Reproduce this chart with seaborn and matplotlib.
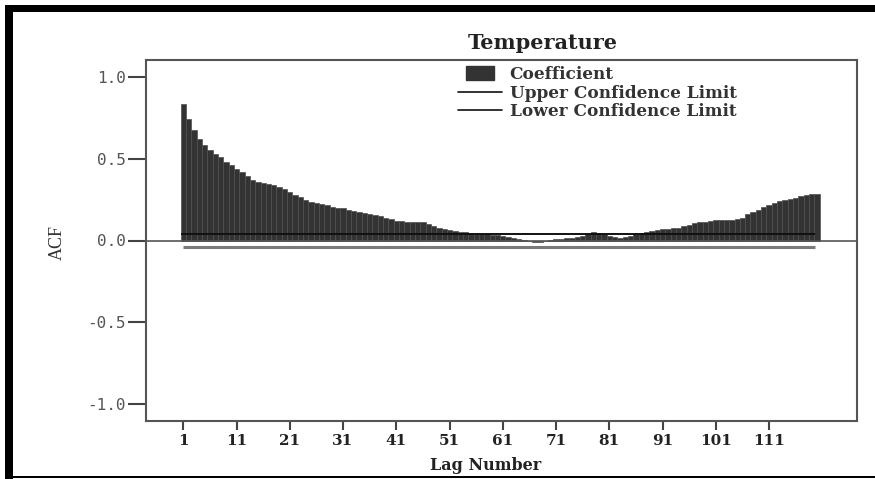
import numpy as np
import pandas as pd
import matplotlib
matplotlib.use("Agg")
import matplotlib.pyplot as plt
import seaborn as sns
from matplotlib.patches import Rectangle, Patch
from matplotlib.lines import Line2D
from matplotlib.legend_handler import HandlerPatch

# ---------------- data ----------------
lags = list(range(1, 121))
acf = [
    0.836, 0.748, 0.677, 0.620, 0.585, 0.556, 0.530, 0.510, 0.482, 0.462,
    0.440, 0.418, 0.395, 0.370, 0.360, 0.352, 0.347, 0.343, 0.330, 0.315,
    0.300, 0.280, 0.265, 0.248, 0.235, 0.228, 0.222, 0.216, 0.208, 0.202,
    0.198, 0.190, 0.178, 0.172, 0.168, 0.165, 0.155, 0.148, 0.140, 0.132,
    0.122, 0.118, 0.115, 0.113, 0.115, 0.114, 0.102, 0.088, 0.075, 0.068,
    0.062, 0.058, 0.055, 0.050, 0.045, 0.040, 0.038, 0.037, 0.036, 0.034,
    0.030, 0.022, 0.015, 0.008, 0.002, -0.005, -0.010, -0.008, -0.002, 0.004,
    0.008, 0.011, 0.014, 0.016, 0.020, 0.028, 0.040, 0.050, 0.048, 0.040,
    0.030, 0.020, 0.018, 0.022, 0.030, 0.038, 0.046, 0.054, 0.060, 0.065,
    0.068, 0.071, 0.074, 0.078, 0.088, 0.098, 0.106, 0.112, 0.116, 0.120,
    0.123, 0.125, 0.126, 0.128, 0.132, 0.140, 0.160, 0.175, 0.190, 0.205,
    0.218, 0.232, 0.240, 0.248, 0.255, 0.262, 0.272, 0.282, 0.285, 0.286,
]
upper_limit = 0.039
lower_limit = -0.039
x_tick_labels = ["1", "11", "21", "31", "41", "51", "61", "71", "81", "91", "101", "111"]
y_ticks = [-1.0, -0.5, 0.0, 0.5, 1.0]
y_tick_labels = ["-1.0", "-0.5", "0.0", "0.5", "1.0"]
title = "Temperature"
legend_labels = ["Coefficient", "Upper Confidence Limit", "Lower Confidence Limit"]

df = pd.DataFrame({"lag": lags, "acf": acf})

# ---------------- style ----------------
sns.set_style("white")
plt.rcParams["font.family"] = ["DejaVu Serif", "DejaVu Sans"]

W, H = 875, 479
fig = plt.figure(figsize=(W / 100, H / 100), dpi=100)
ax = fig.add_axes([146 / W, (H - 421) / H, 711 / W, 361 / H])

sns.barplot(data=df, x="lag", y="acf", ax=ax, color="#333333", saturation=1,
            width=1.0, edgecolor="#505050", linewidth=0.5)

n = len(lags)
ax.axhline(0, color="#555555", lw=1.2, zorder=3)
ax.hlines(upper_limit, -0.5, n - 1.4, color="#111111", lw=1.4, zorder=4)
ax.hlines(lower_limit, 0, n - 1.4, color="#7a7a7a", lw=2.2, zorder=4)

ax.set_xlim(-7.0, 126.5)
ax.set_ylim(-1.107, 1.107)

ax.set_xticks([lags.index(int(t)) for t in x_tick_labels])
ax.set_xticklabels(x_tick_labels, fontsize=11, fontweight="bold", color="#222222",
                   family="DejaVu Serif")
ax.set_yticks(y_ticks)
ax.set_yticklabels(y_tick_labels, fontsize=11.5, color="#555555",
                   family="DejaVu Sans Mono")
ax.tick_params(axis="y", direction="out", length=13, width=1.5, color="#444444", pad=1.5, left=True)
ax.tick_params(axis="x", direction="out", length=6.5, width=1.5, color="#444444", pad=3, bottom=True)

for s in ax.spines.values():
    s.set_visible(True)
    s.set_color("#555555")
    s.set_linewidth(1.5)

ax.set_xlabel("Lag Number", fontsize=11.5, fontweight="bold", color="#222222", va="center")
ax.xaxis.set_label_coords((486 - 146) / 711, (421 - 466) / 361)
ax.set_ylabel("ACF", fontsize=13, color="#333333", family="Liberation Serif",
              va="center", ha="center")
ax.yaxis.set_label_coords((57 - 146) / 711, (421 - 242) / 361)

ax.set_title(title, fontsize=15, fontweight="bold", color="#222222",
             x=(543 - 146) / 711, y=(421 - 43) / 361, va="center", pad=0)


def small_rect(legend, orig_handle, xdescent, ydescent, width, height, fontsize):
    w, h = 19.5, 9.5
    return Rectangle((-xdescent + (width - w) / 2, -ydescent + (height - h) / 2), w, h)


handles = [
    Patch(facecolor="#333333", edgecolor="#333333"),
    Line2D([], [], color="#111111", lw=1.2),
    Line2D([], [], color="#111111", lw=1.2),
]
leg = ax.legend(handles, legend_labels, loc="upper left",
                bbox_to_anchor=((458 - 146) / 711, (421 - 66) / 361),
                frameon=False, borderpad=0, borderaxespad=0,
                handlelength=2.6, handletextpad=0.45, labelspacing=0.1,
                prop={"family": "DejaVu Serif", "weight": "bold", "size": 12.2},
                handler_map={Patch: HandlerPatch(patch_func=small_rect)})
for t in leg.get_texts():
    t.set_color("#333333")

# outer black frame
fig.add_artist(Rectangle((5 / W, 0), 8 / W, (H - 5) / H, transform=fig.transFigure,
                         color="black", lw=0))
fig.add_artist(Rectangle((5 / W, (H - 12) / H), (W - 5) / W, 7 / H, transform=fig.transFigure,
                         color="black", lw=0))
fig.add_artist(Rectangle((5 / W, 1 / H), (W - 5) / W, 2 / H, transform=fig.transFigure,
                         color="black", lw=0))

fig.savefig("out.png", dpi=100)
